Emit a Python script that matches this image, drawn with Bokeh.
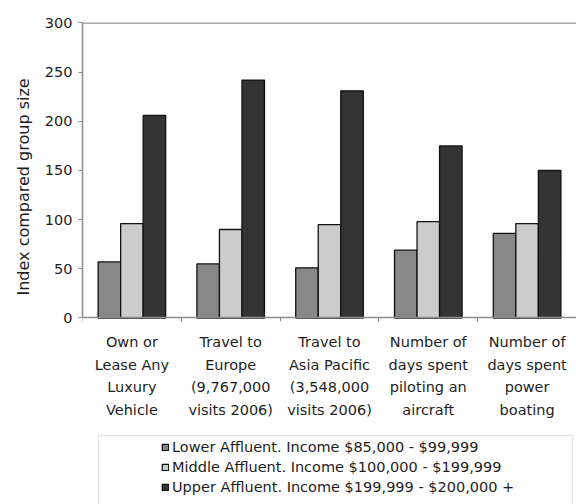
import numpy as np
from bokeh.plotting import figure
from bokeh.models import (ColumnDataSource, FixedTicker, LinearAxis, Legend,
                          LegendItem, BoxAnnotation, Range1d, Span, Title)
from bokeh.core.properties import value
from bokeh.embed import file_html
from bokeh.resources import INLINE

# Category labels (one per group of bars)
categories = [
    "Own or\nLease Any\nLuxury\nVehicle",
    "Travel to\nEurope\n(9,767,000\nvisits 2006)",
    "Travel to\nAsia Pacific\n(3,548,000\nvisits 2006)",
    "Number of\ndays spent\npiloting an\naircraft",
    "Number of\ndays spent\npower\nboating",
]

# Index values per affluence segment
lower_affluent = [57, 55, 51, 69, 86]
middle_affluent = [96, 90, 95, 98, 96]
upper_affluent = [206, 242, 231, 175, 150]

series_names = [
    "Lower Affluent. Income $85,000 - $99,999",
    "Middle Affluent. Income $100,000 - $199,999",
    "Upper Affluent. Income $199,999 - $200,000 +",
]
series_values = [lower_affluent, middle_affluent, upper_affluent]
series_colors = ["#888888", "#cccccc", "#333333"]

y_ticks = [0, 50, 100, 150, 200, 250, 300]
y_title = "Index compared group size"

FONT = "DejaVu Sans"
TEXT = "#1e1e1e"
AXIS = "#8c8c8c"

W, H = 576, 504
LEFT, TOP = 82, 22
PX_PER_UNIT = 295 / 300.0          # vertical scale of the value axis
y_end = 300.5
y_start = y_end - (H - TOP) / PX_PER_UNIT   # room below zero for labels and legend

n = len(categories)
centers = np.arange(n) + 0.5
bar_w = 0.228
offsets = [-bar_w, 0.0, bar_w]

p = figure(width=W, height=H, output_backend="svg", toolbar_location=None,
           x_range=Range1d(0, n), y_range=Range1d(y_start, y_end),
           min_border_left=LEFT, min_border_right=0, min_border_top=TOP,
           min_border_bottom=0, x_axis_type=None, y_axis_type=None)
p.outline_line_color = None
p.grid.visible = False
p.background_fill_color = "white"
p.border_fill_color = "white"

renderers = []
for name, vals, color, off in zip(series_names, series_values, series_colors, offsets):
    src = ColumnDataSource(dict(x=centers + off, top=vals))
    r = p.vbar(x="x", top="top", bottom=0, width=bar_w, source=src,
               fill_color=color, line_color="#111111", line_width=1.3)
    renderers.append((name, r))

# value axis, drawn only over 0..300
yax = LinearAxis(ticker=FixedTicker(ticks=y_ticks), bounds=(0, 300))
yax.major_label_text_font = FONT
yax.major_label_text_font_size = "14.5px"
yax.major_label_text_color = TEXT
yax.major_label_standoff = 6
yax.major_tick_in = 0
yax.major_tick_out = 4
yax.major_tick_line_color = AXIS
yax.minor_tick_line_color = None
yax.axis_line_color = AXIS
yax.axis_line_width = 1.5
p.add_layout(yax, "left")

# value-axis title, placed alongside the 0..300 span
ytitle = Title(text=y_title, align="left", offset=209, standoff=18,
               text_font=FONT, text_font_size="16px", text_font_style="normal",
               text_color=TEXT)
p.add_layout(ytitle, "left")

# category baseline at zero with small ticks between groups
xax = LinearAxis(ticker=FixedTicker(ticks=[], minor_ticks=list(range(n + 1))),
                 fixed_location=0)
xax.major_label_standoff = 0
xax.major_tick_line_color = None
xax.minor_tick_in = 4
xax.minor_tick_out = 0
xax.minor_tick_line_color = AXIS
xax.axis_line_color = AXIS
xax.axis_line_width = 1.5
p.add_layout(xax, "above")

# top border line
p.add_layout(Span(location=300, dimension="width", line_color=AXIS, line_width=1.5))

# category labels under each group
lab_src = ColumnDataSource(dict(x=centers, y=[0] * n, text=categories))
p.text(x="x", y="y", text="text", source=lab_src, y_offset=16,
       text_align="center", text_baseline="top",
       text_font=value(FONT), text_font_size="14.5px", text_color=TEXT,
       text_line_height=1.41)

# legend frame
frame_box = BoxAnnotation(left=98, right=572, top=435, bottom=530,
                          left_units="canvas", right_units="canvas",
                          top_units="canvas", bottom_units="canvas",
                          fill_color=None, fill_alpha=0,
                          line_color="#a0a0a0", line_width=1)
p.add_layout(frame_box)

legend = Legend(items=[LegendItem(label=nm, renderers=[r]) for nm, r in renderers],
                location=(79, 7), orientation="vertical")
legend.border_line_color = None
legend.background_fill_alpha = 0
legend.padding = 0
legend.margin = 0
legend.spacing = 0
legend.label_height = 20
legend.glyph_height = 8
legend.glyph_width = 8
legend.label_standoff = 3
legend.label_text_font = FONT
legend.label_text_font_size = "14.5px"
legend.label_text_color = TEXT
p.add_layout(legend, "center")

open("out.html", "w").write(file_html(p, INLINE))
